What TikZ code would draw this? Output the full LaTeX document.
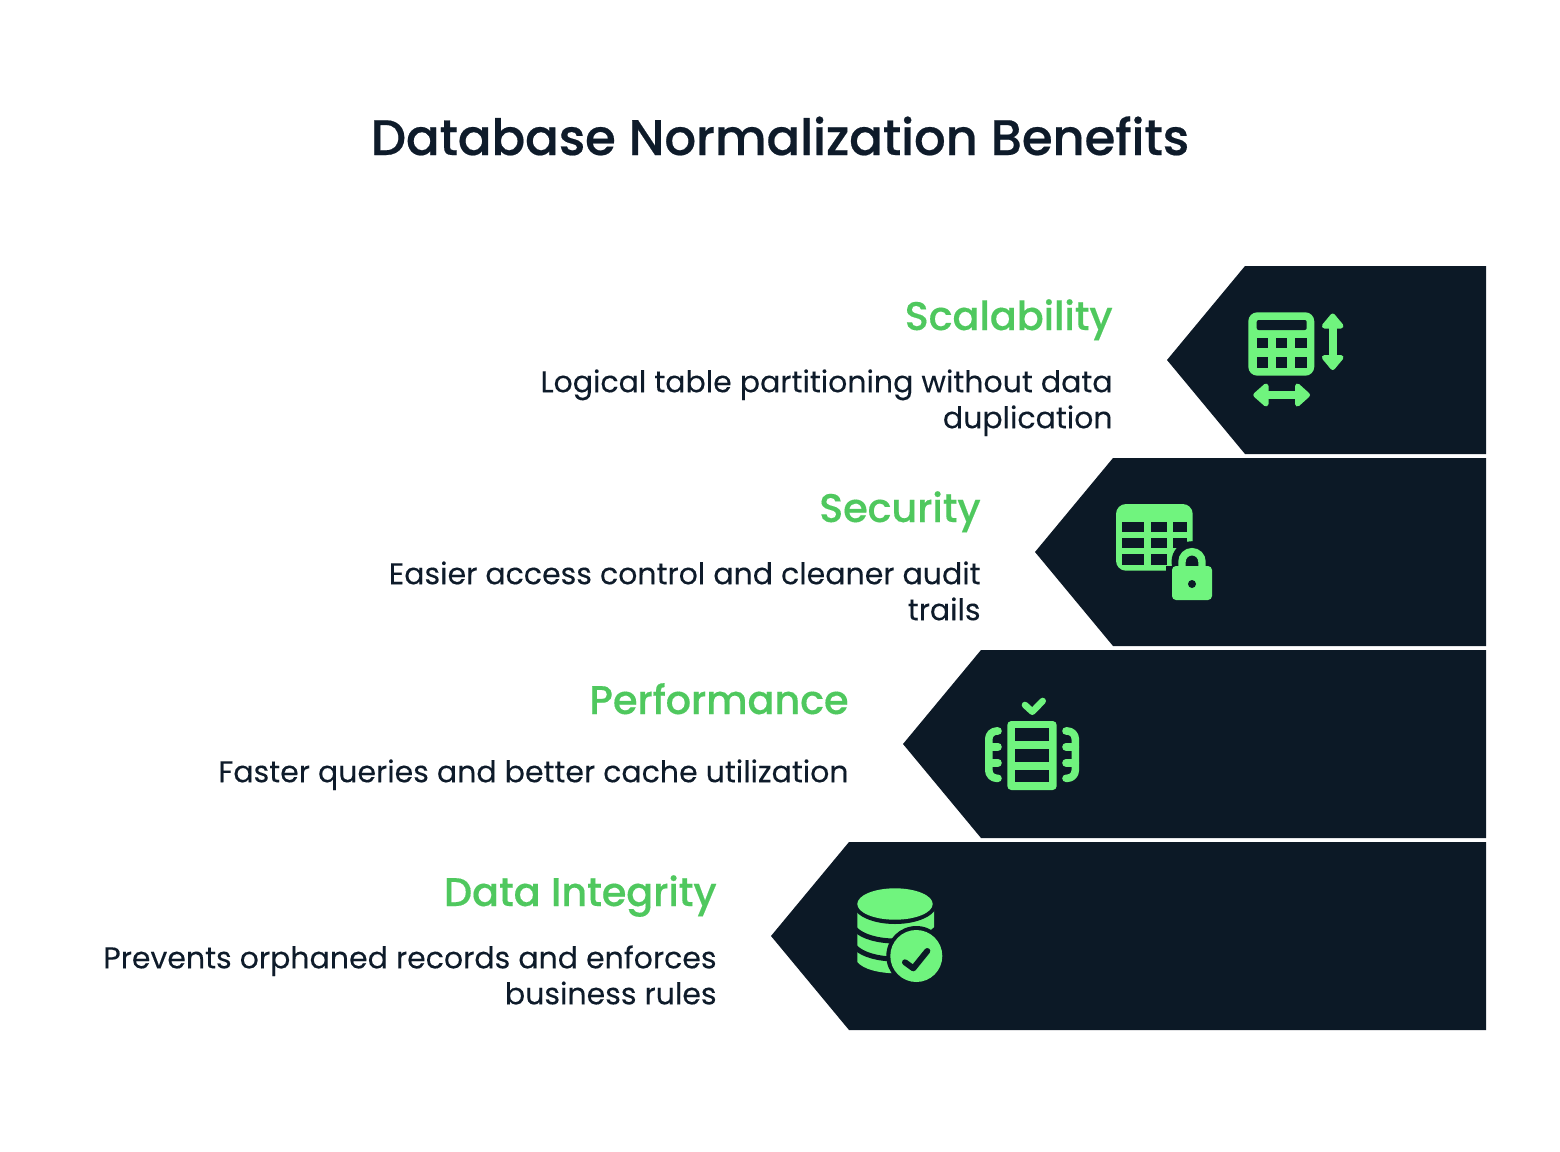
\documentclass[tikz,border=0pt]{standalone}
\usepackage{fontspec}
\setmainfont[FakeBold=0.15]{Poppins}
\newfontfamily\titlefont[LetterSpace=-0.6,FakeBold=0.4]{Poppins Medium}
\newfontfamily\medfont[LetterSpace=-0.5,FakeBold=0.3]{Poppins Medium}
\definecolor{navy}{HTML}{0C1926}
\definecolor{ink}{HTML}{0E1B2A}
\definecolor{headgreen}{HTML}{4FC85E}
\definecolor{icongreen}{HTML}{70F47E}
\tikzset{
    banner/.style={fill=navy},
    heading/.style={anchor=base east,inner sep=0pt,text=headgreen,font=\medfont\fontsize{20}{24}\selectfont},
    blurb/.style={anchor=north east,inner sep=0pt,align=right,text=ink,font=\fontsize{15}{18}\selectfont},
    iconfill/.style={fill=icongreen},
    iconhole/.style={fill=navy},
    iconline/.style={draw=icongreen,line width=3.8pt,line cap=round,line join=round},
    arrowhead/.style={fill=icongreen,draw=icongreen,line width=2.5pt,line join=round}
}
\begin{document}
\begin{tikzpicture}[x=0.5pt,y=-0.5pt]
    \useasboundingbox (0,0) rectangle (1560,1152);

    % Title
    \node[anchor=base,inner sep=0pt,text=ink,font=\titlefont\fontsize{25}{30}\selectfont] (title) at (780,155) {Database Normalization Benefits};

    % Draw banners
    \fill[banner] (1167,360) -- (1245,266) -- (1486,266) -- (1486,454) -- (1245,454) -- cycle;
    \fill[banner] (1035,552) -- (1113,458) -- (1486,458) -- (1486,646) -- (1113,646) -- cycle;
    \fill[banner] (903,744) -- (981,650) -- (1486,650) -- (1486,838) -- (981,838) -- cycle;
    \fill[banner] (771,936) -- (849,842) -- (1486,842) -- (1486,1030) -- (849,1030) -- cycle;

    % Headings
    \node[heading] (scalability) at (1113,330) {Scalability};
    \node[heading] (security) at (981,522) {Security};
    \node[heading] (performance) at (849,714) {Performance};
    \node[heading] (integrity) at (717,906) {Data Integrity};

    % Descriptions
    \node[blurb] (scalabilitytext) at (1113,369) {Logical table partitioning without data\\duplication};
    \node[blurb] (securitytext) at (981,561) {Easier access control and cleaner audit\\trails};
    \node[blurb] (performancetext) at (849,759) {Faster queries and better cache utilization};
    \node[blurb] (integritytext) at (717,945) {Prevents orphaned records and enforces\\business rules};

    % Table with two arrows
    \fill[iconfill,rounded corners=4.5pt] (1248.3,312.3) rectangle (1314.3,375.7);
    \fill[iconhole,rounded corners=1pt] (1256.7,320) rectangle (1306.7,330);
    \foreach \top/\bot in {338.3/348.3,357.3/367.7}
        \foreach \lft/\rgt in {1256.7/1267.7,1276/1286.7,1295.3/1306.7}
            \fill[iconhole] (\lft,\top) rectangle (\rgt,\bot);
    \draw[iconline,line width=4pt,line cap=butt] (1332.7,325) -- (1332.7,358);
    \filldraw[arrowhead] (1332.7,316) -- (1324.4,326) -- (1341,326) -- cycle;
    \filldraw[arrowhead] (1332.7,367.5) -- (1324.4,357.5) -- (1341,357.5) -- cycle;
    \draw[iconline,line width=4pt,line cap=butt] (1265,395) -- (1298,395);
    \filldraw[arrowhead] (1255.8,395) -- (1266,386) -- (1266,404) -- cycle;
    \filldraw[arrowhead] (1307.5,395) -- (1297.5,386) -- (1297.5,404) -- cycle;

    % Table with lock
    \fill[iconfill,rounded corners=5pt] (1116,504) rectangle (1192.7,570.7);
    \foreach \top/\bot in {521.7/532.3,538.3/548.3,554/565}
        \foreach \lft/\rgt in {1122/1144.3,1150.7/1166.7,1172.7/1186.7}
            \fill[iconhole] (\lft,\top) rectangle (\rgt,\bot);
    \fill[iconhole] (1192,561.7) circle (20.5);
    \fill[iconhole] (1166,566) rectangle (1218,606);
    \draw[draw=icongreen,line width=3.7pt] (1182,570) -- (1182,561.7) arc (180:360:10) -- (1202,570);
    \fill[iconfill,rounded corners=2pt] (1172,566) rectangle (1212,600);
    \fill[iconhole] (1192,584) circle (4);

    % Stacked block with check
    \fill[iconfill,rounded corners=2pt] (1007.3,721) rectangle (1056.7,790);
    \foreach \top/\bot in {728.3/741,749/762.3,770/782.3}
        \fill[iconhole] (1015,\top) rectangle (1049.3,\bot);
    \draw[iconline,line width=3.3pt] (1025,705) -- (1032.3,711.7) -- (1042.7,701);
    \draw[iconline,rounded corners=4pt] (998,731) -- (988.8,731) -- (988.8,778.3) -- (998,778.3);
    \draw[iconline] (988.8,746.7) -- (998,746.7);
    \draw[iconline] (988.8,762.7) -- (998,762.7);
    \draw[iconline,rounded corners=4pt] (1066,731) -- (1075.3,731) -- (1075.3,778.3) -- (1066,778.3);
    \draw[iconline] (1075.3,746.7) -- (1066,746.7);
    \draw[iconline] (1075.3,762.7) -- (1066,762.7);

    % Database with check
    \fill[iconfill] (857.3,904) -- (857.3,962) .. controls (870,977) and (921,977) .. (934,962) -- (934,904) -- cycle;
    \fill[iconhole] (895,904) ellipse (42 and 20);
    \fill[iconfill] (895,904) ellipse (37.7 and 15.7);
    \draw[navy,line width=2.5pt] (855,929) .. controls (870,945) and (920,945) .. (936,929);
    \draw[navy,line width=2.5pt] (855,947) .. controls (870,963) and (920,963) .. (936,947);
    \fill[iconhole] (916.3,956) circle (30);
    \fill[iconfill] (916.3,956) circle (26);
    \draw[draw=navy,line width=3pt,line cap=round,line join=round] (905,962.3) -- (913.3,968.3) -- (927.3,951);
\end{tikzpicture}
\end{document}
